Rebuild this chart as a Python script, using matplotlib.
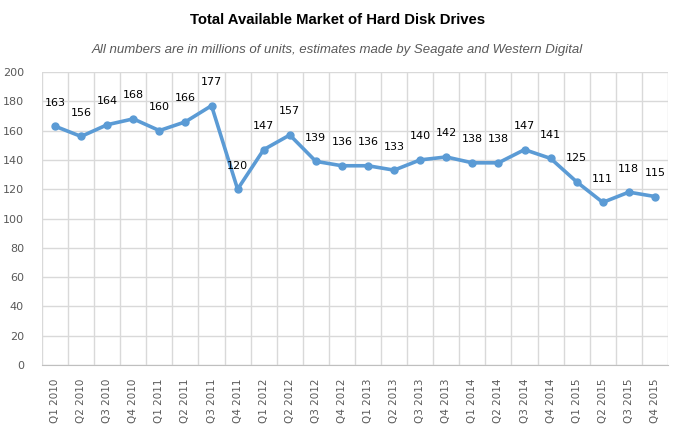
import matplotlib.pyplot as plt
from matplotlib.ticker import MultipleLocator, FixedLocator

quarters = ['Q1 2010', 'Q2 2010', 'Q3 2010', 'Q4 2010',
            'Q1 2011', 'Q2 2011', 'Q3 2011', 'Q4 2011',
            'Q1 2012', 'Q2 2012', 'Q3 2012', 'Q4 2012',
            'Q1 2013', 'Q2 2013', 'Q3 2013', 'Q4 2013',
            'Q1 2014', 'Q2 2014', 'Q3 2014', 'Q4 2014',
            'Q1 2015', 'Q2 2015', 'Q3 2015', 'Q4 2015']
units = [163, 156, 164, 168, 160, 166, 177, 120, 147, 157, 139, 136,
         136, 133, 140, 142, 138, 138, 147, 141, 125, 111, 118, 115]

blue = '#5B9BD5'
grid = '#D9D9D9'
gray = '#595959'

fig = plt.figure(figsize=(6.75, 4.36), dpi=100)
ax = fig.add_axes([0.0622, 0.1628, 0.9274, 0.6721])

x = list(range(len(quarters)))
ax.plot(x, units, color=blue, lw=2.6, marker='o', ms=5, zorder=3)

for xi, v in zip(x, units):
    ax.annotate(str(v), (xi, v), xytext=(0, 17), textcoords='offset points',
                ha='center', va='center', fontsize=8, color='black',
                family='DejaVu Sans')

ax.set_xlim(-0.5, len(quarters) - 0.5)
ax.set_ylim(0, 200)
ax.set_xticks(x)
ax.set_xticklabels(quarters, rotation=90, fontsize=7.5, color=gray)
ax.xaxis.set_minor_locator(FixedLocator([i - 0.5 for i in range(len(quarters) + 1)]))
ax.yaxis.set_major_locator(MultipleLocator(20))
ax.tick_params(axis='x', which='both', length=0, pad=10)
ax.tick_params(axis='y', length=0, pad=13, labelsize=8, labelcolor=gray)
for lab in ax.get_yticklabels():
    lab.set_verticalalignment('center_baseline')
    lab.set_y(lab.get_position()[1])

ax.grid(True, axis='x', which='minor', color=grid, lw=1)
ax.grid(True, axis='y', which='major', color=grid, lw=1)
ax.grid(False, axis='x', which='major')
for s in ['top', 'right', 'left']:
    ax.spines[s].set_visible(False)
ax.spines['bottom'].set_color('#BFBFBF')

fig.text(0.5, 0.955, 'Total Available Market of Hard Disk Drives',
         ha='center', va='center', fontsize=10.7, fontweight='bold',
         family='Liberation Sans')
fig.text(0.5, 0.885, 'All numbers are in millions of units, estimates made by Seagate and Western Digital',
         ha='center', va='center', fontsize=9.5, style='italic', color=gray,
         family='Liberation Sans')

fig.savefig('out.png', dpi=100)
